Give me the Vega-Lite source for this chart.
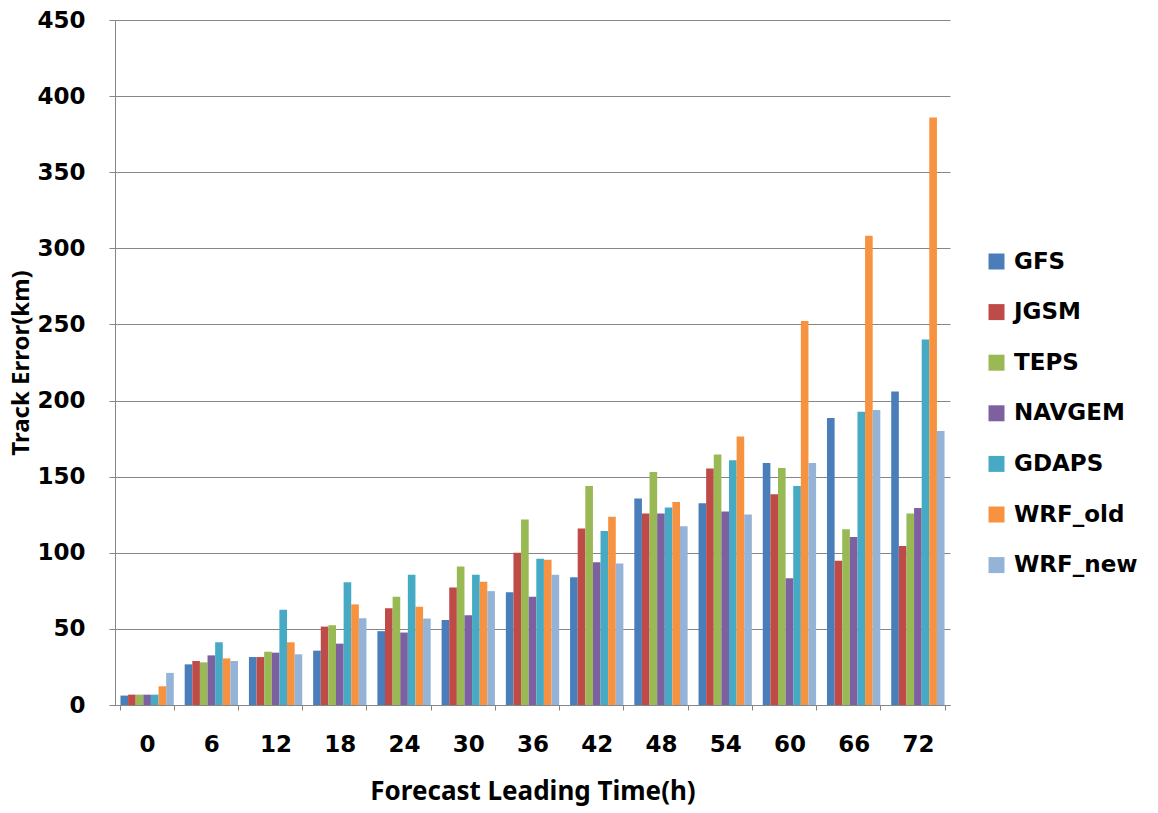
{
  "$schema": "https://vega.github.io/schema/vega-lite/v6.json",
  "width": 835,
  "height": 685,
  "autosize": {"type": "none"},
  "padding": {"left": 115, "top": 20, "right": 208, "bottom": 108},
  "background": "white",
  "config": {
    "view": {"stroke": null},
    "font": "DejaVu Sans"
  },
  "data": {
    "values": [
      {"t": 0, "model": "GFS", "err": 6.2}, {"t": 0, "model": "JGSM", "err": 6.8}, {"t": 0, "model": "TEPS", "err": 6.8}, {"t": 0, "model": "NAVGEM", "err": 6.8}, {"t": 0, "model": "GDAPS", "err": 6.8}, {"t": 0, "model": "WRF_old", "err": 12.3}, {"t": 0, "model": "WRF_new", "err": 21.1},
      {"t": 6, "model": "GFS", "err": 26.7}, {"t": 6, "model": "JGSM", "err": 28.9}, {"t": 6, "model": "TEPS", "err": 28.0}, {"t": 6, "model": "NAVGEM", "err": 32.6}, {"t": 6, "model": "GDAPS", "err": 41.2}, {"t": 6, "model": "WRF_old", "err": 30.6}, {"t": 6, "model": "WRF_new", "err": 28.9},
      {"t": 12, "model": "GFS", "err": 31.5}, {"t": 12, "model": "JGSM", "err": 31.5}, {"t": 12, "model": "TEPS", "err": 35.0}, {"t": 12, "model": "NAVGEM", "err": 34.4}, {"t": 12, "model": "GDAPS", "err": 62.6}, {"t": 12, "model": "WRF_old", "err": 41.2}, {"t": 12, "model": "WRF_new", "err": 33.3},
      {"t": 18, "model": "GFS", "err": 35.7}, {"t": 18, "model": "JGSM", "err": 51.5}, {"t": 18, "model": "TEPS", "err": 52.4}, {"t": 18, "model": "NAVGEM", "err": 40.3}, {"t": 18, "model": "GDAPS", "err": 80.6}, {"t": 18, "model": "WRF_old", "err": 66.1}, {"t": 18, "model": "WRF_new", "err": 57.0},
      {"t": 24, "model": "GFS", "err": 48.5}, {"t": 24, "model": "JGSM", "err": 63.6}, {"t": 24, "model": "TEPS", "err": 71.1}, {"t": 24, "model": "NAVGEM", "err": 47.6}, {"t": 24, "model": "GDAPS", "err": 85.5}, {"t": 24, "model": "WRF_old", "err": 64.5}, {"t": 24, "model": "WRF_new", "err": 56.8},
      {"t": 30, "model": "GFS", "err": 55.9}, {"t": 30, "model": "JGSM", "err": 77.2}, {"t": 30, "model": "TEPS", "err": 91.0}, {"t": 30, "model": "NAVGEM", "err": 59.0}, {"t": 30, "model": "GDAPS", "err": 85.5}, {"t": 30, "model": "WRF_old", "err": 80.9}, {"t": 30, "model": "WRF_new", "err": 74.8},
      {"t": 36, "model": "GFS", "err": 74.1}, {"t": 36, "model": "JGSM", "err": 100.0}, {"t": 36, "model": "TEPS", "err": 121.9}, {"t": 36, "model": "NAVGEM", "err": 71.1}, {"t": 36, "model": "GDAPS", "err": 96.1}, {"t": 36, "model": "WRF_old", "err": 95.4}, {"t": 36, "model": "WRF_new", "err": 85.5},
      {"t": 42, "model": "GFS", "err": 83.9}, {"t": 42, "model": "JGSM", "err": 115.9}, {"t": 42, "model": "TEPS", "err": 143.8}, {"t": 42, "model": "NAVGEM", "err": 93.8}, {"t": 42, "model": "GDAPS", "err": 114.3}, {"t": 42, "model": "WRF_old", "err": 123.6}, {"t": 42, "model": "WRF_new", "err": 93.0},
      {"t": 48, "model": "GFS", "err": 135.7}, {"t": 48, "model": "JGSM", "err": 125.8}, {"t": 48, "model": "TEPS", "err": 153.1}, {"t": 48, "model": "NAVGEM", "err": 125.8}, {"t": 48, "model": "GDAPS", "err": 129.7}, {"t": 48, "model": "WRF_old", "err": 133.3}, {"t": 48, "model": "WRF_new", "err": 117.4},
      {"t": 54, "model": "GFS", "err": 132.6}, {"t": 54, "model": "JGSM", "err": 155.3}, {"t": 54, "model": "TEPS", "err": 164.5}, {"t": 54, "model": "NAVGEM", "err": 127.1}, {"t": 54, "model": "GDAPS", "err": 160.8}, {"t": 54, "model": "WRF_old", "err": 176.4}, {"t": 54, "model": "WRF_new", "err": 125.1},
      {"t": 60, "model": "GFS", "err": 158.9}, {"t": 60, "model": "JGSM", "err": 138.5}, {"t": 60, "model": "TEPS", "err": 155.7}, {"t": 60, "model": "NAVGEM", "err": 83.3}, {"t": 60, "model": "GDAPS", "err": 143.8}, {"t": 60, "model": "WRF_old", "err": 252.3}, {"t": 60, "model": "WRF_new", "err": 158.9},
      {"t": 66, "model": "GFS", "err": 188.5}, {"t": 66, "model": "JGSM", "err": 94.8}, {"t": 66, "model": "TEPS", "err": 115.4}, {"t": 66, "model": "NAVGEM", "err": 110.4}, {"t": 66, "model": "GDAPS", "err": 192.7}, {"t": 66, "model": "WRF_old", "err": 308.3}, {"t": 66, "model": "WRF_new", "err": 193.8},
      {"t": 72, "model": "GFS", "err": 206.0}, {"t": 72, "model": "JGSM", "err": 104.4}, {"t": 72, "model": "TEPS", "err": 125.8}, {"t": 72, "model": "NAVGEM", "err": 129.4}, {"t": 72, "model": "GDAPS", "err": 240.1}, {"t": 72, "model": "WRF_old", "err": 385.9}, {"t": 72, "model": "WRF_new", "err": 180.0}
    ]
  },
  "mark": {"type": "bar"},
  "encoding": {
    "x": {
      "field": "t",
      "type": "ordinal",
      "scale": {"paddingInner": 0.17, "paddingOuter": 0.085},
      "axis": {
        "title": "Forecast Leading Time(h)",
        "titleFont": "Noto Sans",
        "titleFontSize": 26,
        "titleFontWeight": "bold",
        "titleColor": "#000000",
        "titlePadding": 22,
        "labelAngle": 0,
        "labelFont": "DejaVu Sans",
        "labelFontSize": 23,
        "labelFontWeight": "bold",
        "labelColor": "#000000",
        "labelPadding": 23,
        "tickBand": "extent",
        "tickColor": "#868686",
        "tickSize": 5,
        "domainColor": "#868686",
        "grid": false
      }
    },
    "xOffset": {
      "field": "model",
      "type": "nominal",
      "sort": ["GFS", "JGSM", "TEPS", "NAVGEM", "GDAPS", "WRF_old", "WRF_new"],
      "scale": {"paddingInner": 0, "paddingOuter": 0}
    },
    "y": {
      "field": "err",
      "type": "quantitative",
      "scale": {"domain": [0, 450], "nice": false},
      "axis": {
        "title": "Track Error(km)",
        "titleFont": "Noto Sans",
        "titleFontSize": 24,
        "titleFontWeight": "bold",
        "titleColor": "#000000",
        "titlePadding": 3,
        "values": [0, 50, 100, 150, 200, 250, 300, 350, 400, 450],
        "labelFont": "DejaVu Sans",
        "labelFontSize": 23,
        "labelFontWeight": "bold",
        "labelColor": "#000000",
        "labelPadding": 24,
        "tickColor": "#868686",
        "tickSize": 6,
        "domainColor": "#868686",
        "gridColor": "#868686",
        "gridWidth": 1
      }
    },
    "color": {
      "field": "model",
      "type": "nominal",
      "sort": ["GFS", "JGSM", "TEPS", "NAVGEM", "GDAPS", "WRF_old", "WRF_new"],
      "scale": {
        "domain": ["GFS", "JGSM", "TEPS", "NAVGEM", "GDAPS", "WRF_old", "WRF_new"],
        "range": ["#4A7EBB", "#BE4B48", "#98B954", "#7D60A0", "#46AAC5", "#F69240", "#95B3D7"]
      },
      "legend": {
        "title": null,
        "orient": "none",
        "legendX": 870,
        "legendY": 230,
        "symbolType": "square",
        "symbolSize": 256,
        "symbolStrokeWidth": 0,
        "labelFont": "DejaVu Sans",
        "labelFontSize": 23,
        "labelFontWeight": "bold",
        "labelColor": "#000000",
        "labelOffset": 6,
        "rowPadding": 26.6
      }
    }
  }
}
